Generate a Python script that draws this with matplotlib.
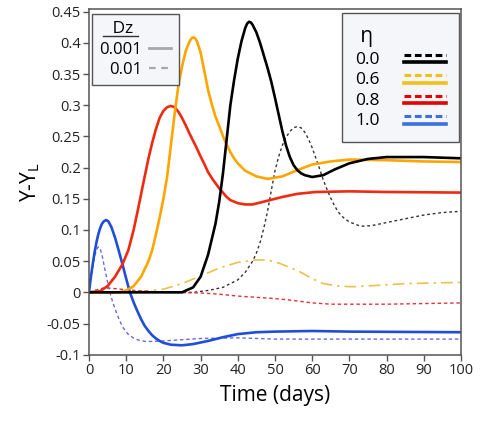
import matplotlib
matplotlib.use('Agg')
import matplotlib.pyplot as plt
from matplotlib.lines import Line2D
from matplotlib.legend_handler import HandlerBase
from matplotlib.ticker import FuncFormatter, MultipleLocator

plt.rcParams['font.family'] = ['Open Sans', 'DejaVu Sans']

# region ###### DATA ##############################
# Dz = 0.001 (solid lines)
t_k1 = [0, 25, 28, 30, 32, 34, 35, 36, 37, 38, 39, 40, 41, 42, 42.5, 43, 43.5, 44, 45, 46, 47, 48, 49, 50, 51, 52, 53,
        54, 55, 56, 57, 58, 60, 63, 66, 70, 75, 80, 90, 100]
y_k1 = [0, 0.0, 0.008, 0.025, 0.06, 0.11, 0.145, 0.19, 0.245, 0.3, 0.34, 0.375, 0.403, 0.424, 0.431, 0.434, 0.433,
        0.429, 0.417, 0.4, 0.38, 0.36, 0.338, 0.312, 0.285, 0.258, 0.235, 0.217, 0.204, 0.196, 0.191, 0.188, 0.185,
        0.188, 0.197, 0.207, 0.214, 0.217, 0.217, 0.215]

t_o1 = [0, 8, 10, 12, 14, 16, 17, 18, 19, 20, 21, 22, 23, 24, 25, 26, 27, 27.5, 28, 28.5, 29, 30, 31, 32, 33, 34, 35,
        36, 37, 38, 39, 40, 42, 45, 48, 52, 56, 60, 65, 70, 80, 90, 100]
y_o1 = [0, 0.0, 0.003, 0.01, 0.025, 0.05, 0.068, 0.093, 0.12, 0.15, 0.185, 0.235, 0.285, 0.33, 0.362, 0.387, 0.402,
        0.407, 0.409, 0.408, 0.403, 0.385, 0.355, 0.325, 0.302, 0.282, 0.267, 0.251, 0.237, 0.225, 0.215, 0.207, 0.195,
        0.186, 0.182, 0.186, 0.196, 0.205, 0.21, 0.213, 0.212, 0.21, 0.209]

t_r1 = [0, 3, 5, 7, 9, 10.6, 12, 13, 14.6, 16, 17, 18, 19, 20, 21, 22, 23, 24, 25, 26, 27, 28, 29, 30, 31, 32, 33.4,
        35, 36, 37, 38, 40, 42, 44, 48, 52, 56, 61, 70, 80, 100]
y_r1 = [0, 0.002, 0.01, 0.025, 0.045, 0.068, 0.1, 0.128, 0.175, 0.215, 0.24, 0.262, 0.28, 0.291, 0.297, 0.299, 0.297,
        0.29, 0.28, 0.268, 0.255, 0.243, 0.231, 0.218, 0.206, 0.193, 0.18, 0.167, 0.16, 0.153, 0.148, 0.143, 0.141,
        0.141, 0.147, 0.153, 0.158, 0.161, 0.162, 0.161, 0.16]

t_b1 = [0, 0.5, 1, 1.5, 2, 2.5, 3, 3.5, 4, 4.6, 5.2, 6, 7, 8, 9, 10, 11, 12, 13, 14, 15, 16, 17, 18, 19, 20, 22, 25,
        28, 32, 36, 40, 45, 50, 60, 70, 100]
y_b1 = [0, 0.024, 0.045, 0.064, 0.08, 0.093, 0.103, 0.11, 0.114, 0.116, 0.114, 0.105, 0.088, 0.067, 0.045, 0.022, 0.0,
        -0.016, -0.03, -0.043, -0.054, -0.062, -0.069, -0.074, -0.078, -0.081, -0.084, -0.085, -0.083, -0.078, -0.072,
        -0.067, -0.064, -0.063, -0.062, -0.063, -0.064]

# Dz = 0.01 (broken lines)
t_k2 = [0, 28, 32, 36, 40, 42, 44, 45, 46, 47, 48, 49, 50, 51, 52, 53, 54, 55, 56, 57, 58, 59, 60, 61, 62, 63, 64, 65,
        66, 67, 68, 69, 70, 73, 76, 80, 85, 90, 95, 100]
y_k2 = [0, 0.0, 0.003, 0.008, 0.02, 0.032, 0.05, 0.063, 0.08, 0.103, 0.13, 0.163, 0.195, 0.218, 0.236, 0.249, 0.258,
        0.264, 0.266, 0.264, 0.257, 0.246, 0.232, 0.215, 0.198, 0.18, 0.165, 0.151, 0.139, 0.129, 0.122, 0.117, 0.113,
        0.106, 0.107, 0.112, 0.118, 0.124, 0.128, 0.13]

t_o2 = [0, 10, 15, 20, 25, 30, 35, 40, 45, 48, 51, 54, 57, 60, 63, 67, 71, 77, 85, 100]
y_o2 = [0, 0.0, 0.002, 0.005, 0.014, 0.026, 0.039, 0.048, 0.052, 0.052, 0.047, 0.04, 0.032, 0.022, 0.014, 0.01, 0.009,
        0.011, 0.014, 0.016]

t_r2 = [0, 2, 4, 7, 10, 15, 20, 30, 35, 40, 45, 50, 55, 60, 65, 70, 80, 90, 100]
y_r2 = [0, 0.004, 0.007, 0.006, 0.004, 0.002, 0.0, -0.001, -0.003, -0.006, -0.008, -0.01, -0.013, -0.017, -0.019,
        -0.019, -0.019, -0.018, -0.017]

t_b2 = [0, 0.5, 1, 1.5, 2, 2.5, 3, 3.5, 4, 4.7, 5.6, 6.5, 7.4, 8.3, 9.2, 10.5, 11.9, 13.5, 15.5, 20, 25, 30, 40, 50,
        60, 100]
y_b2 = [0, 0.022, 0.04, 0.057, 0.068, 0.073, 0.07, 0.06, 0.045, 0.025, 0.0, -0.018, -0.033, -0.046, -0.057, -0.067,
        -0.073, -0.077, -0.079, -0.078, -0.076, -0.074, -0.073, -0.075, -0.075, -0.075]

eta_labels = ['0.0', '0.6', '0.8', '1.0']
dz_labels = ['0.001', '0.01']
# endregion


class DoubleLine(HandlerBase):
    # dashed line over a solid line, same colour
    def create_artists(self, legend, orig_handle, xdescent, ydescent, width, height, fontsize, trans):
        c = orig_handle.get_color()
        x = [-xdescent, -xdescent + width]
        top = Line2D(x, [height * 0.72 - ydescent] * 2, color = c, lw = 2.2, ls = (0, (2.2, 1.2)), transform = trans)
        bot = Line2D(x, [height * 0.12 - ydescent] * 2, color = c, lw = 2.6, transform = trans)
        return [top, bot]


fig = plt.figure(figsize = (4.82, 4.21), dpi = 100)
ax = fig.add_axes([0.1846, 0.1568, 0.7718, 0.8218])

# broken lines first (thin)
ax.plot(t_k2, y_k2, color = '#333333', lw = 1.0, ls = (0, (2, 2)))
ax.plot(t_o2, y_o2, color = '#E8C24A', lw = 1.2, ls = (0, (7, 3, 1.5, 3)))
ax.plot(t_r2, y_r2, color = '#E8303A', lw = 1.0, ls = (0, (2.5, 2)))
ax.plot(t_b2, y_b2, color = '#6A6ADE', lw = 1.0, ls = (0, (2.5, 2)))

# solid lines
ax.plot(t_b1, y_b1, color = '#1F4FD8', lw = 1.9)
ax.plot(t_r1, y_r1, color = '#EE2A10', lw = 1.9)
ax.plot(t_o1, y_o1, color = '#FFA500', lw = 1.9)
ax.plot(t_k1, y_k1, color = '#000000', lw = 1.9)

ax.set_xlim(0, 100)
ax.set_ylim(-0.1005, 0.4545)
ax.xaxis.set_major_locator(MultipleLocator(10))
ax.yaxis.set_major_locator(MultipleLocator(0.05))
ax.yaxis.set_major_formatter(FuncFormatter(lambda v, p: f'{round(v, 2):g}'))
ax.tick_params(direction = 'out', length = 4, width = 1, color = '#555555', labelsize = 10.5, labelcolor = '#222222',
               pad = 2)
for s in ax.spines.values():
	s.set_color('#555555')
	s.set_linewidth(1.1)

ax.set_xlabel('Time (days)', fontsize = 15, labelpad = 5)
ax.set_ylabel('Y-Y$_\\mathregular{L}$', fontsize = 15, labelpad = 3)

# region ###### LEGENDS ######
eta_handles = [Line2D([], [], color = c) for c in ['#000000', '#F2C01A', '#E60000', '#3C6FE0']]
leg1 = ax.legend(eta_handles, eta_labels, handler_map = {Line2D: DoubleLine()}, title = ' η', markerfirst = False,
                 loc = 'upper right', bbox_to_anchor = (0.9935, 0.988), fontsize = 12.5, title_fontsize = 15,
                 handlelength = 2.4, handletextpad = 1.4, labelspacing = 0.25, borderpad = 0.75,
                 fancybox = False, framealpha = 1, alignment = 'left', borderaxespad = 0)
leg1.get_frame().set_facecolor('#F4F6F9')
leg1.get_frame().set_edgecolor('#555555')
ax.add_artist(leg1)

dz_handles = [Line2D([], [], color = '#A8A8A8', lw = 2), Line2D([], [], color = '#A8A8A8', lw = 1.6, ls = (0, (3, 2.5)))]
leg2 = ax.legend(dz_handles, dz_labels, title = '   Dz', markerfirst = False, loc = 'upper left',
                 bbox_to_anchor = (0.008, 0.986), fontsize = 12, title_fontsize = 12.5, handlelength = 1.35,
                 handletextpad = 0.4, labelspacing = 0.25, borderpad = 0.45, fancybox = False, framealpha = 1,
                 alignment = 'left', borderaxespad = 0)
leg2.get_frame().set_facecolor('#F4F6F9')
leg2.get_frame().set_edgecolor('#555555')
# endregion

# underline under the Dz title
fig.canvas.draw()
tb = leg2.get_title().get_window_extent()
lb = leg2.get_texts()[0].get_window_extent()
inv = fig.transFigure.inverted()
(x0, y0), (x1, y1) = inv.transform([[lb.x0 + 4, tb.y0 + 1], [lb.x1 - 4, tb.y0 + 1]])
fig.add_artist(Line2D([x0, x1], [y0, y1], color = '#333333', lw = 1, transform = fig.transFigure))

plt.savefig('out.png', dpi = 100)
